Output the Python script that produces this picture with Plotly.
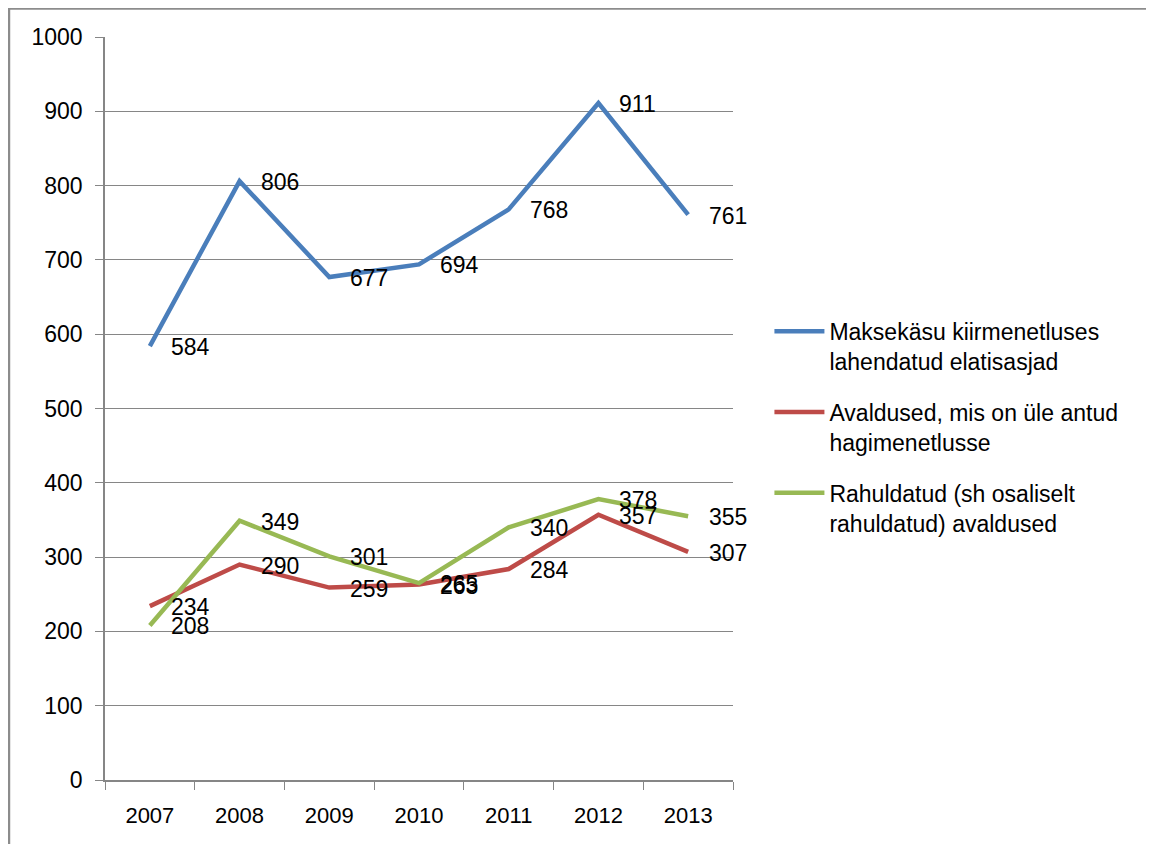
import plotly.graph_objects as go

years = ["2007", "2008", "2009", "2010", "2011", "2012", "2013"]
blue_vals = [584, 806, 677, 694, 768, 911, 761]
red_vals = [234, 290, 259, 263, 284, 357, 307]
green_vals = [208, 349, 301, 265, 340, 378, 355]
names = [
    "Maksekäsu kiirmenetluses<br>lahendatud elatisasjad",
    "Avaldused, mis on üle antud<br>hagimenetlusse",
    "Rahuldatud (sh osaliselt<br>rahuldatud) avaldused",
]
colors = ["#4A7EBB", "#BE4B48", "#98B954"]
y_ticks = [0, 100, 200, 300, 400, 500, 600, 700, 800, 900, 1000]

FONT = "Liberation Sans, Arial, sans-serif"
FS = 23

fig = go.Figure()
annotations = []
for i, (vals, name, col) in enumerate(zip([blue_vals, red_vals, green_vals], names, colors)):
    fig.add_trace(go.Scatter(
        x=years, y=vals, mode="lines", name=name,
        line=dict(color=col, width=4.5),
        legendgroup=f"g{i}",
    ))
    for xi, v in enumerate(vals):
        annotations.append(dict(
            x=xi, y=v, xref="x", yref="y", text=str(v), showarrow=False,
            xanchor="left", yanchor="middle", xshift=19, yshift=-1,
            font=dict(family=FONT, size=FS, color="#000000"),
        ))

fig.update_layout(
    width=1154, height=844,
    margin=dict(l=97, r=429, t=29, b=72),
    paper_bgcolor="white", plot_bgcolor="white",
    font=dict(family=FONT, size=FS, color="#000000"),
    showlegend=True,
    legend=dict(
        x=1.058, y=0.633, xanchor="left", yanchor="top",
        font=dict(family=FONT, size=FS, color="#000000"),
        valign="top", tracegroupgap=18, itemwidth=50,
        bgcolor="rgba(0,0,0,0)",
    ),
    annotations=annotations,
    shapes=[
        dict(type="line", xref="paper", yref="paper", x0=-0.16, x1=1.8, y0=1.0383, y1=1.0383,
             line=dict(color="#8C8C8C", width=2.5)),
        dict(type="line", xref="paper", yref="paper", x0=-0.1529, x1=-0.1529, y0=-0.2, y1=1.0383,
             line=dict(color="#8C8C8C", width=2.5)),
    ],
)
fig.update_xaxes(
    type="category", range=[-0.5, 6.5],
    showline=True, linecolor="#868686", linewidth=1.5,
    ticks="outside", tickson="boundaries", ticklen=8, tickcolor="#868686", tickwidth=1.3,
    showgrid=False, ticklabelstandoff=15,
    tickfont=dict(family=FONT, size=FS - 1, color="#000000"),
)
fig.update_yaxes(
    range=[0, 1000], tickvals=y_ticks,
    showline=True, linecolor="#868686", linewidth=1.5,
    ticks="outside", ticklen=8, tickcolor="#868686", tickwidth=1.3,
    showgrid=True, gridcolor="#868686", gridwidth=1.3,
    zeroline=False, ticklabelstandoff=8,
    tickfont=dict(family=FONT, size=FS, color="#000000"),
)

fig.write_html("out.html")
